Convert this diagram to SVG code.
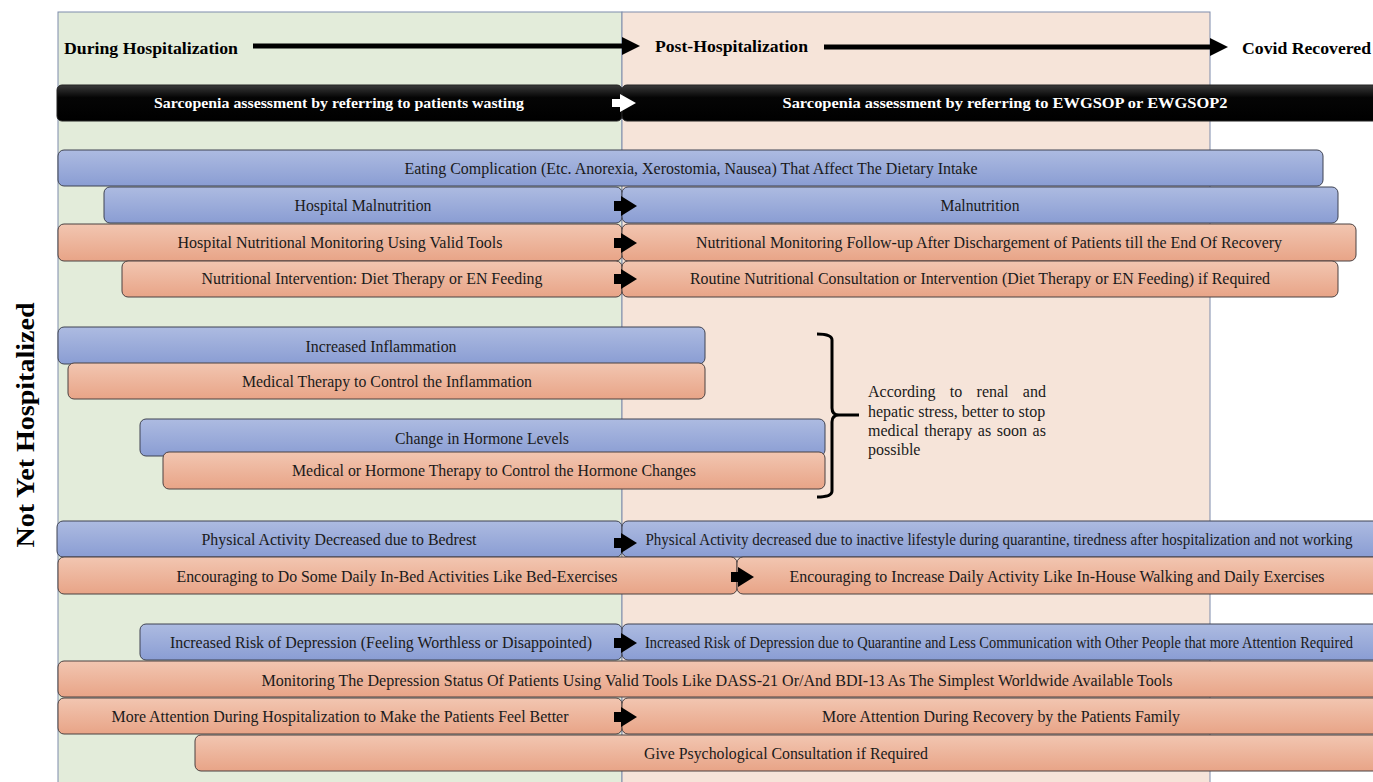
<svg xmlns="http://www.w3.org/2000/svg" width="1373" height="782" viewBox="0 0 1373 782">
<defs>
<linearGradient id="gBlue" x1="0" y1="0" x2="0" y2="1"><stop offset="0" stop-color="#adbbe1"/><stop offset="1" stop-color="#8a9dd3"/></linearGradient>
<linearGradient id="gOrange" x1="0" y1="0" x2="0" y2="1"><stop offset="0" stop-color="#f2c6b1"/><stop offset="1" stop-color="#e8a487"/></linearGradient>
<linearGradient id="gBlack" x1="0" y1="0" x2="0" y2="1"><stop offset="0" stop-color="#3a3a3a"/><stop offset="0.35" stop-color="#050505"/><stop offset="1" stop-color="#000"/></linearGradient>
<style>
.blue{fill:url(#gBlue);stroke:#3f4352;stroke-width:1}
.orange{fill:url(#gOrange);stroke:#4a4040;stroke-width:1}
.black{fill:url(#gBlack);stroke:#222;stroke-width:1}
.t{font-family:"Liberation Serif","Times New Roman",serif;font-size:16px;fill:#1a1a1a;text-anchor:middle}
.h{font-family:"Liberation Serif","Times New Roman",serif;font-size:17.5px;font-weight:bold;fill:#000}
.w{font-family:"Liberation Serif","Times New Roman",serif;font-size:14.5px;font-weight:bold;fill:#fff;text-anchor:middle}
.n{font-family:"Liberation Serif","Times New Roman",serif;font-size:16px;fill:#1a1a1a}
.arr{fill:#000}
</style>
</defs>

<g id="panels">
<rect x="58" y="12" width="564" height="780" fill="#e3ecda" stroke="#7e8cab" stroke-width="1"/>
<rect x="622" y="12" width="588" height="780" fill="#f6e4d9" stroke="#7e8cab" stroke-width="1"/>
</g>

<g id="headers">
<text class="h" x="64" y="54" textLength="174" lengthAdjust="spacingAndGlyphs">During Hospitalization</text>
<text class="h" x="655" y="52" textLength="153" lengthAdjust="spacingAndGlyphs">Post-Hospitalization</text>
<text class="h" x="1242" y="54" textLength="129" lengthAdjust="spacingAndGlyphs">Covid Recovered</text>
<text x="25" y="425" transform="rotate(-90 25 425)" text-anchor="middle" dy="9" font-family="'Liberation Serif','Times New Roman',serif" font-size="26" font-weight="bold" fill="#000" textLength="245" lengthAdjust="spacingAndGlyphs">Not Yet Hospitalized</text>
</g>

<g id="sarcopenia-hosp"><rect class="black" x="57" y="85" width="565" height="36" rx="5"/><text class="w" x="339" y="108" textLength="370" lengthAdjust="spacingAndGlyphs">Sarcopenia assessment by referring to patients wasting</text></g>
<g id="sarcopenia-post"><rect class="black" x="622" y="85" width="763" height="36" rx="5"/><text class="w" x="1005" y="108" textLength="445" lengthAdjust="spacingAndGlyphs">Sarcopenia assessment by referring to EWGSOP or EWGSOP2</text></g>

<g id="eating"><rect class="blue" x="58" y="150" width="1265" height="36" rx="6"/><text class="t" x="691" y="174" textLength="573" lengthAdjust="spacingAndGlyphs">Eating Complication (Etc. Anorexia, Xerostomia, Nausea) That Affect The Dietary Intake</text></g>

<g id="hosp-malnutrition"><rect class="blue" x="104" y="187" width="518" height="36" rx="6"/><text class="t" x="363" y="211" textLength="137" lengthAdjust="spacingAndGlyphs">Hospital Malnutrition</text></g>
<g id="malnutrition"><rect class="blue" x="622" y="187" width="716" height="36" rx="6"/><text class="t" x="980" y="211" textLength="79" lengthAdjust="spacingAndGlyphs">Malnutrition</text></g>

<g id="hosp-monitoring"><rect class="orange" x="58" y="224" width="564" height="37" rx="6"/><text class="t" x="340" y="248" textLength="325" lengthAdjust="spacingAndGlyphs">Hospital Nutritional Monitoring Using Valid Tools</text></g>
<g id="monitoring-followup"><rect class="orange" x="622" y="224" width="734" height="37" rx="6"/><text class="t" x="989" y="248" textLength="586" lengthAdjust="spacingAndGlyphs">Nutritional Monitoring Follow-up After Dischargement of Patients till the End Of Recovery</text></g>

<g id="nutr-intervention"><rect class="orange" x="122" y="261" width="500" height="36" rx="6"/><text class="t" x="372" y="284" textLength="341" lengthAdjust="spacingAndGlyphs">Nutritional Intervention: Diet Therapy or EN Feeding</text></g>
<g id="routine-consult"><rect class="orange" x="622" y="261" width="716" height="36" rx="6"/><text class="t" x="980" y="284" textLength="580" lengthAdjust="spacingAndGlyphs">Routine Nutritional Consultation or Intervention (Diet Therapy or EN Feeding) if Required</text></g>

<g id="inflammation"><rect class="blue" x="58" y="327" width="647" height="37" rx="6"/><text class="t" x="381" y="352" textLength="151" lengthAdjust="spacingAndGlyphs">Increased Inflammation</text></g>
<g id="med-therapy"><rect class="orange" x="68" y="363" width="637" height="36" rx="6"/><text class="t" x="387" y="387" textLength="290" lengthAdjust="spacingAndGlyphs">Medical Therapy to Control the Inflammation</text></g>

<g id="hormone"><rect class="blue" x="140" y="419" width="685" height="37" rx="6"/><text class="t" x="482" y="444" textLength="174" lengthAdjust="spacingAndGlyphs">Change in Hormone Levels</text></g>
<g id="hormone-therapy"><rect class="orange" x="163" y="452" width="662" height="37" rx="6"/><text class="t" x="494" y="476" textLength="404" lengthAdjust="spacingAndGlyphs">Medical or Hormone Therapy to Control the Hormone Changes</text></g>

<g id="note">
<path d="M817 334 Q832 334 832 340 L832 408 Q832 415 839 415 L859 415 M839 415 Q832 415 832 422 L832 491 Q832 497 817 497" fill="none" stroke="#000" stroke-width="3"/>
<text class="n" x="868" y="397" word-spacing="10.3">According to renal and</text>
<text class="n" x="868" y="417">hepatic stress, better to stop</text>
<text class="n" x="868" y="436" word-spacing="1.6">medical therapy as soon as</text>
<text class="n" x="868" y="455">possible</text>
</g>

<g id="phys-hosp"><rect class="blue" x="57" y="521" width="565" height="36" rx="6"/><text class="t" x="339" y="545" textLength="275" lengthAdjust="spacingAndGlyphs">Physical Activity Decreased due to Bedrest</text></g>
<g id="phys-post"><rect class="blue" x="622" y="521" width="758" height="36" rx="6"/><text class="t" x="999" y="545" textLength="707" lengthAdjust="spacingAndGlyphs">Physical Activity decreased due to inactive lifestyle during quarantine, tiredness after hospitalization and not working</text></g>

<g id="encourage-hosp"><rect class="orange" x="58" y="557" width="679" height="37" rx="6"/><text class="t" x="397" y="582" textLength="441" lengthAdjust="spacingAndGlyphs">Encouraging to Do Some Daily In-Bed Activities Like Bed-Exercises</text></g>
<g id="encourage-post"><rect class="orange" x="737" y="557" width="643" height="37" rx="6"/><text class="t" x="1057" y="582" textLength="535" lengthAdjust="spacingAndGlyphs">Encouraging to Increase Daily Activity Like In-House Walking and Daily Exercises</text></g>

<g id="depression-hosp"><rect class="blue" x="140" y="624" width="482" height="36" rx="6"/><text class="t" x="381" y="648" textLength="422" lengthAdjust="spacingAndGlyphs">Increased Risk of Depression (Feeling Worthless or Disappointed)</text></g>
<g id="depression-post"><rect class="blue" x="622" y="624" width="758" height="36" rx="6"/><text class="t" x="999" y="648" textLength="708" lengthAdjust="spacingAndGlyphs">Increased Risk of Depression due to Quarantine and Less Communication with Other People that more Attention Required</text></g>

<g id="depression-monitoring"><rect class="orange" x="58" y="661" width="1322" height="36" rx="6"/><text class="t" x="717" y="686" textLength="911" lengthAdjust="spacingAndGlyphs">Monitoring The Depression Status Of Patients Using Valid Tools Like DASS-21 Or/And BDI-13 As The Simplest Worldwide Available Tools</text></g>

<g id="attention-hosp"><rect class="orange" x="58" y="698" width="564" height="36" rx="6"/><text class="t" x="340" y="722" textLength="457" lengthAdjust="spacingAndGlyphs">More Attention During Hospitalization to Make the Patients Feel Better</text></g>
<g id="attention-post"><rect class="orange" x="622" y="698" width="758" height="36" rx="6"/><text class="t" x="1001" y="722" textLength="358" lengthAdjust="spacingAndGlyphs">More Attention During Recovery by the Patients Family</text></g>

<g id="psych-consult"><rect class="orange" x="195" y="735" width="1185" height="36" rx="6"/><text class="t" x="786" y="759" textLength="284" lengthAdjust="spacingAndGlyphs">Give Psychological Consultation if Required</text></g>

<g id="connectors">
<rect class="arr" x="253" y="43.5" width="370" height="5"/>
<polygon class="arr" points="622,37 640,46 622,55"/>
<rect class="arr" x="824" y="44.5" width="387" height="5"/>
<polygon class="arr" points="1210,38 1228,47 1210,56"/>
<polygon fill="#fff" points="612,99 620,99 620,94 636,103 620,112 620,107 612,107"/>
<polygon class="arr" points="614,201 621,201 621,196 637,206 621,216 621,211 614,211"/>
<polygon class="arr" points="614,238 621,238 621,233 637,243 621,253 621,248 614,248"/>
<polygon class="arr" points="614,274 621,274 621,269 637,279 621,289 621,284 614,284"/>
<polygon class="arr" points="614,538 621,538 621,533 637,543 621,553 621,548 614,548"/>
<polygon class="arr" points="731,572 738,572 738,567 754,577 738,587 738,582 731,582"/>
<polygon class="arr" points="614,638 621,638 621,633 637,643 621,653 621,648 614,648"/>
<polygon class="arr" points="614,712 621,712 621,707 637,717 621,727 621,722 614,722"/>
</g>
</svg>
